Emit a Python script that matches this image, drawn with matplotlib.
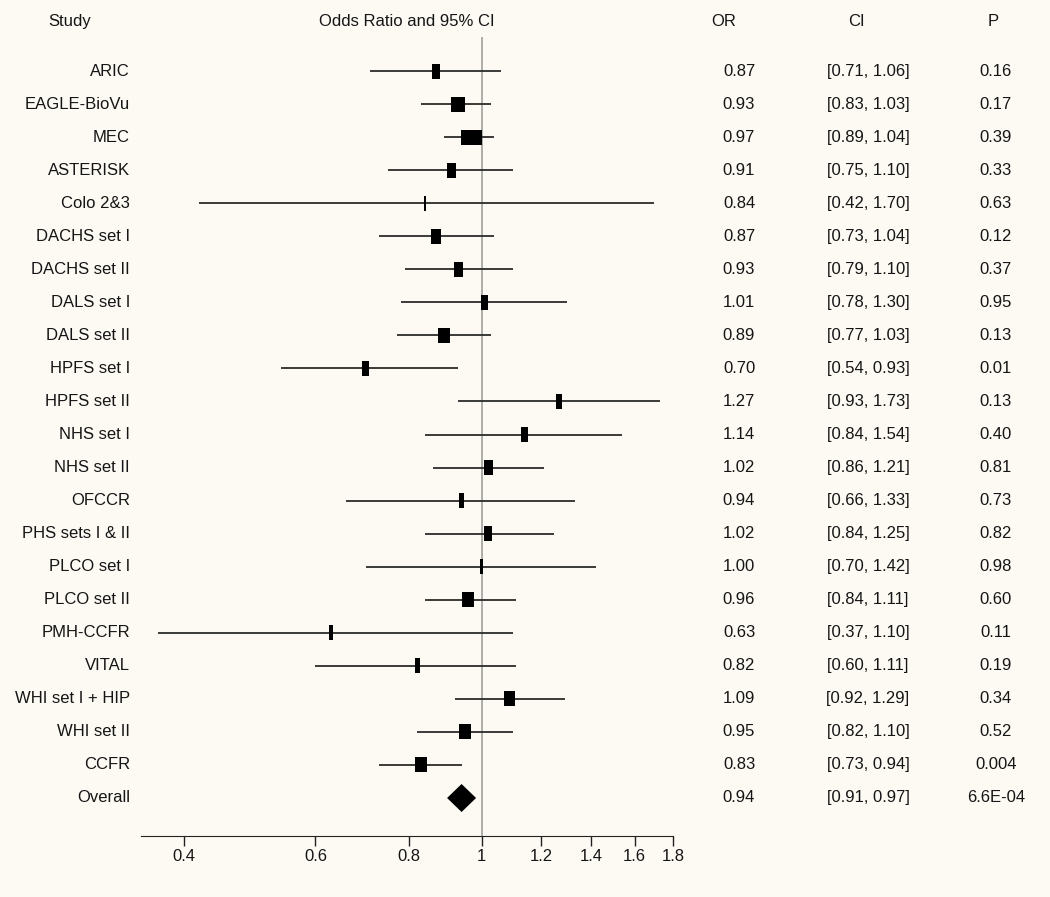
import matplotlib
matplotlib.use("Agg")
from matplotlib import pyplot as plt
from matplotlib import transforms as mtransforms
from matplotlib.patches import Rectangle, Polygon

# donnees
studies = ["ARIC", "EAGLE-BioVu", "MEC", "ASTERISK", "Colo 2&3", "DACHS set I",
           "DACHS set II", "DALS set I", "DALS set II", "HPFS set I", "HPFS set II",
           "NHS set I", "NHS set II", "OFCCR", "PHS sets I & II", "PLCO set I",
           "PLCO set II", "PMH-CCFR", "VITAL", "WHI set I + HIP", "WHI set II", "CCFR"]
odds = [0.87, 0.93, 0.97, 0.91, 0.84, 0.87, 0.93, 1.01, 0.89, 0.70, 1.27,
        1.14, 1.02, 0.94, 1.02, 1.00, 0.96, 0.63, 0.82, 1.09, 0.95, 0.83]
ci_low = [0.71, 0.83, 0.89, 0.75, 0.42, 0.73, 0.79, 0.78, 0.77, 0.54, 0.93,
          0.84, 0.86, 0.66, 0.84, 0.70, 0.84, 0.37, 0.60, 0.92, 0.82, 0.73]
ci_high = [1.06, 1.03, 1.04, 1.10, 1.70, 1.04, 1.10, 1.30, 1.03, 0.93, 1.73,
           1.54, 1.21, 1.33, 1.25, 1.42, 1.11, 1.10, 1.11, 1.29, 1.10, 0.94]
pvals = ["0.16", "0.17", "0.39", "0.33", "0.63", "0.12", "0.37", "0.95", "0.13",
         "0.01", "0.13", "0.40", "0.81", "0.73", "0.82", "0.98", "0.60", "0.11",
         "0.19", "0.34", "0.52", "0.004"]
weights = [8, 14, 21, 9, 1.5, 10, 9, 7, 12, 7, 6, 7, 9, 5.5, 8, 3.5, 12, 4, 5, 11, 12, 11.5]

overall_or = 0.94
overall_ci = (0.91, 0.97)
overall_p = "6.6E-04"

ticks = [0.4, 0.6, 0.8, 1, 1.2, 1.4, 1.6, 1.8]
tick_labels = ["0.4", "0.6", "0.8", "1", "1.2", "1.4", "1.6", "1.8"]

bg = "#fcfaf3"
txt = "#151515"
plt.rcParams["font.family"] = ["Liberation Sans", "DejaVu Sans"]
plt.rcParams["font.size"] = 12

W, H = 1050, 897
fig = plt.figure(figsize=(W / 100, H / 100), dpi=100, facecolor=bg)
ax = fig.add_axes([141 / W, 61 / H, (673 - 141) / W, (836 - 37) / H])
ax.set_facecolor(bg)
ax.set_xscale("log")
ax.set_xlim(0.351, 1.8)
ax.set_ylim(23.15, -1.03)

rows = list(range(len(studies)))
overall_row = len(studies)

# ligne de reference
ax.axvline(1, color="#a8a6a2", lw=1.3, zorder=1)

# intervalles
ax.hlines(rows, ci_low, ci_high, color="#2b2b2b", lw=1.3, zorder=2)

# carres (largeur = poids, en pixels)
for r, o, w in zip(rows, odds, weights):
    tr = mtransforms.Affine2D() + mtransforms.ScaledTranslation(o, r, ax.transData)
    ax.add_patch(Rectangle((-w / 2, -7.5), w, 15, transform=tr,
                           facecolor="black", edgecolor="none", zorder=3))

# losange global
tr = mtransforms.Affine2D() + mtransforms.ScaledTranslation(overall_or, overall_row, ax.transData)
ax.add_patch(Polygon([(-14.5, 0), (0, 14), (14.5, 0), (0, -14)], closed=True,
                     transform=tr, facecolor="black", edgecolor="none", zorder=3))

for s in ["left", "top", "right"]:
    ax.spines[s].set_visible(False)
ax.spines["bottom"].set_color("#222222")
ax.set_yticks([])
ax.set_xticks(ticks)
ax.set_xticklabels(tick_labels)
ax.minorticks_off()
ax.tick_params(axis="x", direction="out", length=7.2, width=1, color="#222222",
               pad=2, labelsize=12, labelcolor=txt)

# colonnes de texte
tt = mtransforms.blended_transform_factory(fig.transFigure, ax.transData)
hy = -1.51
kw = dict(transform=tt, va="center", clip_on=False, color=txt)
ax.text(70 / W, hy, "Study", ha="center", **kw)
ax.text(407 / W, hy, "Odds Ratio and 95% CI", ha="center", **kw)
ax.text(724 / W, hy, "OR", ha="center", **kw)
ax.text(856 / W, hy, "CI", ha="center", **kw)
ax.text(993 / W, hy, "P", ha="center", **kw)

labels = studies + ["Overall"]
all_or = odds + [overall_or]
all_lo = ci_low + [overall_ci[0]]
all_hi = ci_high + [overall_ci[1]]
all_p = pvals + [overall_p]
for r, (name, o, lo, hi, p) in enumerate(zip(labels, all_or, all_lo, all_hi, all_p)):
    ax.text(130 / W, r, name, ha="right", **kw)
    ax.text(739 / W, r, "%.2f" % o, ha="center", **kw)
    ax.text(868 / W, r, "[%.2f, %.2f]" % (lo, hi), ha="center", **kw)
    ax.text(996 / W, r, p, ha="center", **kw)

fig.savefig("out.png", dpi=100, facecolor=bg)
